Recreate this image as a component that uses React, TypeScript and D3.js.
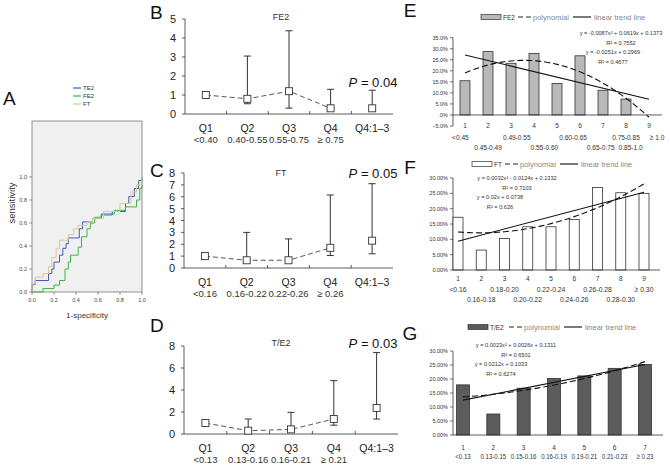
import React from 'react';
import * as d3 from 'd3';

const FONT = "'Liberation Sans', Arial, sans-serif";

// ---------- Panel A: ROC curves ----------
const rocTE2: [number, number][] = [[0,0],[0,0.065],[0.03,0.065],[0.03,0.1],[0.15,0.1],[0.15,0.16],[0.18,0.16],[0.18,0.2],[0.2,0.2],[0.2,0.26],[0.25,0.26],[0.25,0.32],[0.28,0.32],[0.28,0.38],[0.31,0.38],[0.31,0.42],[0.33,0.42],[0.33,0.47],[0.43,0.47],[0.43,0.55],[0.46,0.55],[0.46,0.61],[0.55,0.61],[0.55,0.64],[0.63,0.64],[0.63,0.67],[0.73,0.67],[0.73,0.7],[0.85,0.7],[0.85,0.77],[0.88,0.77],[0.88,0.83],[0.93,0.83],[0.93,0.9],[0.97,0.9],[0.97,0.97],[1,0.97],[1,1]];
const rocFE2: [number, number][] = [[0,0],[0.1,0],[0.1,0.03],[0.2,0.03],[0.2,0.06],[0.25,0.06],[0.25,0.1],[0.3,0.1],[0.3,0.2],[0.33,0.2],[0.33,0.26],[0.35,0.26],[0.35,0.32],[0.42,0.32],[0.42,0.39],[0.45,0.39],[0.45,0.48],[0.5,0.48],[0.5,0.55],[0.53,0.55],[0.53,0.6],[0.57,0.6],[0.57,0.65],[0.63,0.65],[0.63,0.68],[0.75,0.68],[0.75,0.71],[0.85,0.71],[0.85,0.74],[0.95,0.74],[0.95,0.8],[0.98,0.8],[0.98,0.9],[1,0.9],[1,1]];
const rocFT: [number, number][] = [[0,0],[0,0.07],[0.03,0.07],[0.03,0.13],[0.1,0.13],[0.1,0.16],[0.15,0.16],[0.15,0.22],[0.18,0.22],[0.18,0.3],[0.22,0.3],[0.22,0.38],[0.25,0.38],[0.25,0.45],[0.33,0.45],[0.33,0.5],[0.38,0.5],[0.38,0.55],[0.42,0.55],[0.42,0.58],[0.5,0.58],[0.5,0.61],[0.55,0.61],[0.55,0.64],[0.65,0.64],[0.65,0.7],[0.8,0.7],[0.8,0.77],[0.9,0.77],[0.9,0.87],[0.95,0.87],[0.95,0.93],[1,0.93],[1,1]];
const rocNames = ['TE2', 'FE2', 'FT'];
const rocColors = ['#3f5bb5', '#3fb34a', '#dcc898'];
const rocTicks = [0, 0.2, 0.4, 0.6, 0.8, 1.0];

// ---------- Panels B-D: odds ratios by quartile ----------
const quartiles = ['Q1', 'Q2', 'Q3', 'Q4', 'Q4:1–3'];

const fe2Ranges = ['<0.40', '0.40-0.55', '0.55-0.75', '≥ 0.75'];
const fe2Point = [1.0, 0.8, 1.2, 0.3, 0.3];
const fe2Low = [1.0, 0.54, 0.31, 0.22, 0.22];
const fe2High = [1.0, 3.05, 4.38, 1.3, 1.25];
const fe2Ticks = [0, 1, 2, 3, 4, 5];

const ftRanges = ['<0.16', '0.16-0.22', '0.22-0.26', '≥ 0.26'];
const ftPoint = [1.0, 0.65, 0.65, 1.7, 2.3];
const ftLow = [1.0, 0.6, 0.6, 1.05, 1.2];
const ftHigh = [1.0, 3.0, 2.45, 6.15, 7.1];
const ftTicks = [0, 1, 2, 3, 4, 5, 6, 7, 8];

const te2Ranges = ['<0.13', '0.13-0.16', '0.16-0.21', '≥ 0.21'];
const te2Point = [1.0, 0.3, 0.42, 1.36, 2.36];
const te2Low = [1.0, 0.2, 0.35, 0.8, 1.36];
const te2High = [1.0, 1.36, 1.97, 4.85, 7.4];
const te2Ticks = [0, 2, 4, 6, 8];

// ---------- Panels E-G: distribution bars with trend lines ----------
const eCats = [1, 2, 3, 4, 5, 6, 7, 8, 9];
const eValues = [0.155, 0.287, 0.234, 0.279, 0.143, 0.268, 0.112, 0.072, 0];
const eRanges = ['<0.45', '0.45-0.49', '0.49-0.55', '0.55-0.60', '0.60-0.65', '0.65-0.75', '0.75-0.85', '0.85-1.0', '≥ 1.0'];
const eRangePos = [0.8, 2.0, 3.25, 4.45, 5.7, 6.9, 8.0, 8.2, 9.35];
const ePoly = [-0.0087, 0.0619, 0.1373];
const eLin = [-0.0251, 0.2969];
const eTicks = [-0.05, 0, 0.05, 0.1, 0.15, 0.2, 0.25, 0.3, 0.35];
const eEq = ['y = -0.0087x² + 0.0619x + 0.1373', 'R² = 0.7552', 'y = -0.0251x + 0.2969', 'R² = 0.4677'];

const fCats = [1, 2, 3, 4, 5, 6, 7, 8, 9];
const fValues = [0.172, 0.065, 0.103, 0.141, 0.141, 0.165, 0.269, 0.252, 0.25];
const fRanges = ['<0.16', '0.16-0.18', '0.18-0.20', '0.20-0.22', '0.22-0.24', '0.24-0.26', '0.26-0.28', '0.28-0.30', '≥ 0.30'];
const fPoly = [0.0032, -0.0124, 0.1332];
const fLin = [0.02, 0.0738];
const fTicks = [0, 0.05, 0.1, 0.15, 0.2, 0.25, 0.3];
const fEq = ['y = 0.0032x² - 0.0124x + 0.1332', 'R² = 0.7103', 'y = 0.02x + 0.0738', 'R² = 0.626'];

const gCats = [1, 2, 3, 4, 5, 6, 7];
const gValues = [0.179, 0.075, 0.167, 0.202, 0.211, 0.238, 0.252];
const gRanges = ['<0.13', '0.13-0.15', '0.15-0.16', '0.16-0.19', '0.19-0.21', '0.21-0.23', '≥ 0.23'];
const gPoly = [0.0023, 0.0026, 0.1311];
const gLin = [0.0212, 0.1033];
const gTicks = [0, 0.05, 0.1, 0.15, 0.2, 0.25, 0.3];
const gEq = ['y = 0.0023x² + 0.0026x + 0.1311', 'R² = 0.6501', 'y = 0.0212x + 0.1033', 'R² = 0.6274'];

function PanelA() {
  const x = d3.scaleLinear().domain([0, 1]).range([32, 142]);
  const y = d3.scaleLinear().domain([0, 1]).range([292, 177]);
  const line = d3.line<[number, number]>().x(d => x(d[0])).y(d => y(d[1]));
  const curves = [rocTE2, rocFE2, rocFT];
  return (
    <g fontFamily={FONT}>
      <text x={3} y={98} fontSize={19} dominantBaseline="central" fill="#111">A</text>
      {rocNames.map((n, i) => (
        <g key={n}>
          <line x1={73} x2={81} y1={88 + i * 8} y2={88 + i * 8} stroke={rocColors[i]} strokeWidth={1.2} />
          <text x={83} y={88 + i * 8} fontSize={6} dominantBaseline="central" fill="#333">{n}</text>
        </g>
      ))}
      <rect x={32} y={121} width={110} height={171} fill="#f0f0f0" stroke="#777" strokeWidth={0.8} />
      {curves.map((c, i) => (
        <path key={i} d={line(c) || ''} fill="none" stroke={rocColors[i]} strokeWidth={1} />
      ))}
      {rocTicks.map(t => (
        <g key={'y' + t}>
          <line x1={29} x2={32} y1={y(t)} y2={y(t)} stroke="#555" strokeWidth={0.6} />
          <text x={27} y={y(t)} fontSize={5.5} textAnchor="end" dominantBaseline="central" fill="#444">{t.toFixed(1)}</text>
        </g>
      ))}
      {rocTicks.map(t => (
        <g key={'x' + t}>
          <line x1={x(t)} x2={x(t)} y1={292} y2={295} stroke="#555" strokeWidth={0.6} />
          <text x={x(t)} y={300} fontSize={5.5} textAnchor="middle" dominantBaseline="central" fill="#444">{t.toFixed(1)}</text>
        </g>
      ))}
      <text x={87} y={315} fontSize={8} textAnchor="middle" dominantBaseline="central" fill="#333">1-specificity</text>
      <text transform="translate(11,203) rotate(-90)" fontSize={9.5} textAnchor="middle" dominantBaseline="central" fill="#333">sensitivity</text>
    </g>
  );
}

type ORProps = {
  letter: string; letterY: number; title: string; titleY: number; pText: string; pY: number;
  x0: number; x1: number; yTop: number; yBottom: number; yMax: number;
  ticks: number[]; ranges: string[]; point: number[]; low: number[]; high: number[];
};

function ORPanel(p: ORProps) {
  const x = d3.scaleBand<string>().domain(quartiles).range([p.x0, p.x1]);
  const y = d3.scaleLinear().domain([0, p.yMax]).range([p.yBottom, p.yTop]);
  const cx = (q: string) => (x(q) || 0) + x.bandwidth() / 2;
  const pts: [number, number][] = quartiles.slice(0, 4).map((q, i) => [cx(q), y(p.point[i])]);
  const line = d3.line();
  return (
    <g fontFamily={FONT}>
      <text x={150} y={p.letterY} fontSize={19} dominantBaseline="central" fill="#111">{p.letter}</text>
      <text x={281} y={p.titleY} fontSize={9} textAnchor="middle" dominantBaseline="central" fill="#333">{p.title}</text>
      <text x={373} y={p.pY} fontSize={13} textAnchor="middle" dominantBaseline="central" fill="#111">
        <tspan fontStyle="italic">P</tspan> = {p.pText}
      </text>
      <line x1={p.x0} x2={p.x0} y1={y(0)} y2={y(p.yMax)} stroke="#333" strokeWidth={0.8} />
      <line x1={p.x0} x2={p.x1} y1={y(0)} y2={y(0)} stroke="#333" strokeWidth={0.8} />
      {p.ticks.map(t => (
        <g key={t}>
          <line x1={p.x0 - 3} x2={p.x0} y1={y(t)} y2={y(t)} stroke="#333" strokeWidth={0.8} />
          <text x={p.x0 - 9} y={y(t)} fontSize={11} textAnchor="end" dominantBaseline="central" fill="#222">{t}</text>
        </g>
      ))}
      {quartiles.slice(1).map(q => (
        <line key={q} x1={x(q)} x2={x(q)} y1={y(0)} y2={y(0) - 3} stroke="#333" strokeWidth={0.8} />
      ))}
      <path d={line(pts) || ''} fill="none" stroke="#444" strokeWidth={0.9} strokeDasharray="5,3" />
      {quartiles.map((q, i) => (
        p.high[i] > p.low[i] ? (
          <g key={'e' + q} stroke="#333" strokeWidth={1}>
            <line x1={cx(q)} x2={cx(q)} y1={y(p.low[i])} y2={y(p.high[i])} />
            <line x1={cx(q) - 3.5} x2={cx(q) + 3.5} y1={y(p.high[i])} y2={y(p.high[i])} />
            <line x1={cx(q) - 3.5} x2={cx(q) + 3.5} y1={y(p.low[i])} y2={y(p.low[i])} />
          </g>
        ) : null
      ))}
      {quartiles.map((q, i) => (
        <rect key={'s' + q} x={cx(q) - 3.5} y={y(p.point[i]) - 3.5} width={7} height={7} fill="#fff" stroke="#333" strokeWidth={0.9} />
      ))}
      {quartiles.map(q => (
        <text key={'l' + q} x={cx(q)} y={y(0) + 14} fontSize={10.5} textAnchor="middle" dominantBaseline="central" fill="#222">{q}</text>
      ))}
      {p.ranges.map((r, i) => (
        <text key={'r' + i} x={cx(quartiles[i])} y={y(0) + 25} fontSize={9.5} textAnchor="middle" dominantBaseline="central" fill="#333">{r}</text>
      ))}
    </g>
  );
}

type DistProps = {
  letter: string; letterY: number; legendY: number; legendName: string;
  barFill: string; cats: number[]; values: number[]; ranges: string[]; rangePos?: number[]; twoRows: boolean;
  poly: number[]; lin: number[]; ticks: number[]; tickFmt: string;
  xr: [number, number]; yDomain: [number, number]; yRange: [number, number];
  axisEnd: number; barW: number; eq: string[]; eqX: [number, number]; eqY: number;
  numY: number; rowY: [number, number]; swatchX: number; rangeSqueeze: number;
};

function DistPanel(p: DistProps) {
  const n = p.cats.length;
  const x = d3.scaleLinear().domain([1, n]).range(p.xr);
  const y = d3.scaleLinear().domain(p.yDomain).range(p.yRange);
  const fmt = d3.format(p.tickFmt);
  const xs = d3.range(1, n + 0.001, 0.1);
  const polyPts: [number, number][] = xs.map(v => [x(v), y(p.poly[0] * v * v + p.poly[1] * v + p.poly[2])]);
  const linPts: [number, number][] = [1, n].map(v => [x(v), y(p.lin[0] * v + p.lin[1])]);
  const line = d3.line();
  const axisX = 453;
  const sx = p.swatchX;
  const lx = sx + 22 + p.legendName.length * 4;
  return (
    <g fontFamily={FONT}>
      <text x={410} y={p.letterY} fontSize={19} textAnchor="middle" dominantBaseline="central" fill="#111">{p.letter}</text>
      {/* legend */}
      <rect x={sx} y={p.legendY - 2.5} width={20} height={5} fill={p.barFill} stroke="#333" strokeWidth={0.7} />
      <text x={sx + 22} y={p.legendY} fontSize={6.5} dominantBaseline="central" fill="#333">{p.legendName}</text>
      <line x1={lx + 3} x2={lx + 16} y1={p.legendY} y2={p.legendY} stroke="#222" strokeWidth={1.2} strokeDasharray="5,3" />
      <text x={lx + 18} y={p.legendY} fontSize={7.5} dominantBaseline="central" fill="#888">polynomial</text>
      <line x1={lx + 58} x2={lx + 76} y1={p.legendY} y2={p.legendY} stroke="#222" strokeWidth={1.2} />
      <text x={lx + 79} y={p.legendY} fontSize={7.5} dominantBaseline="central" fill="#888">linear trend line</text>
      {/* axes */}
      <line x1={axisX} x2={axisX} y1={y(p.yDomain[0])} y2={y(p.yDomain[1])} stroke="#333" strokeWidth={0.8} />
      {p.ticks.map(t => (
        <g key={t}>
          <line x1={axisX - 3} x2={axisX} y1={y(t)} y2={y(t)} stroke="#333" strokeWidth={0.7} />
          <text x={axisX - 5} y={y(t)} fontSize={5.5} textAnchor="end" dominantBaseline="central" fill="#333">{t === 0 && p.tickFmt === '.1%' ? '.0%' : fmt(t)}</text>
        </g>
      ))}
      {/* bars */}
      {p.cats.map((c, i) => (
        p.values[i] > 0 ? (
          <rect key={c} x={x(c) - p.barW / 2} y={y(p.values[i])} width={p.barW} height={y(0) - y(p.values[i])} fill={p.barFill} stroke="#333" strokeWidth={0.8} />
        ) : null
      ))}
      <line x1={axisX} x2={p.axisEnd} y1={y(0)} y2={y(0)} stroke="#333" strokeWidth={0.8} />
      {/* trend lines */}
      <path d={line(polyPts) || ''} fill="none" stroke="#111" strokeWidth={1.1} strokeDasharray="6,3" />
      <path d={line(linPts) || ''} fill="none" stroke="#111" strokeWidth={1.1} />
      {/* equations */}
      {p.eq.map((e, i) => (
        <text key={i} x={i < 2 ? p.eqX[0] : p.eqX[1]} y={p.eqY + i * 9.6} fontSize={5.6} textAnchor="middle" dominantBaseline="central" fill="#333">{e}</text>
      ))}
      {/* category labels */}
      {p.cats.map(c => (
        <text key={'n' + c} x={x(c)} y={p.numY} fontSize={6.5} textAnchor="middle" dominantBaseline="central" fill="#333">{c}</text>
      ))}
      {p.ranges.map((r, i) => {
        const pos = p.rangePos ? p.rangePos[i] : p.cats[i];
        const ry = p.twoRows ? p.rowY[i % 2] : p.rowY[0];
        return (
          <g key={'r' + i} transform={`translate(${x(pos)},${ry}) scale(${p.rangeSqueeze},1)`}>
            <text x={0} y={0} fontSize={8} textAnchor="middle" dominantBaseline="central" fill="#333">{r}</text>
          </g>
        );
      })}
    </g>
  );
}

export default function App() {
  return (
    <svg width={670} height={472} style={{ position: 'absolute', left: 0, top: 0, background: '#fff' }}>
      <rect width={670} height={472} fill="#fff" />
      <PanelA />
      <ORPanel letter="B" letterY={12} title="FE2" titleY={17} pText="0.04" pY={82} x0={185} x1={393} yTop={19} yBottom={114} yMax={5}
        ticks={fe2Ticks} ranges={fe2Ranges} point={fe2Point} low={fe2Low} high={fe2High} />
      <ORPanel letter="C" letterY={170} title="FT" titleY={173} pText="0.05" pY={173} x0={184} x1={393} yTop={173} yBottom={268} yMax={8}
        ticks={ftTicks} ranges={ftRanges} point={ftPoint} low={ftLow} high={ftHigh} />
      <ORPanel letter="D" letterY={325} title="T/E2" titleY={343} pText="0.03" pY={343} x0={184} x1={398} yTop={346} yBottom={434} yMax={8}
        ticks={te2Ticks} ranges={te2Ranges} point={te2Point} low={te2Low} high={te2High} />
      <DistPanel letter="E" letterY={10} legendY={17} legendName="FE2" barFill="#b9b9b9" cats={eCats} values={eValues}
        ranges={eRanges} rangePos={eRangePos} twoRows={true} poly={ePoly} lin={eLin} ticks={eTicks} tickFmt=".1%"
        xr={[465, 649]} yDomain={[-0.05, 0.35]} yRange={[126, 37.7]} axisEnd={662} barW={10}
        eq={eEq} eqX={[621, 613]} eqY={33} numY={125} rowY={[137, 147]} swatchX={481} rangeSqueeze={0.82} />
      <DistPanel letter="F" letterY={167} legendY={164} legendName="FT" barFill="#ffffff" cats={fCats} values={fValues}
        ranges={fRanges} twoRows={true} poly={fPoly} lin={fLin} ticks={fTicks} tickFmt=".2%"
        xr={[458, 644]} yDomain={[0, 0.3]} yRange={[270, 178]} axisEnd={660} barW={10}
        eq={fEq} eqX={[517, 500]} eqY={178} numY={278} rowY={[289, 299]} swatchX={472} rangeSqueeze={0.85} />
      <DistPanel letter="G" letterY={333} legendY={327} legendName="T/E2" barFill="#5c5c5c" cats={gCats} values={gValues}
        ranges={gRanges} twoRows={false} poly={gPoly} lin={gLin} ticks={gTicks} tickFmt=".2%"
        xr={[463, 645]} yDomain={[0, 0.3]} yRange={[435, 351]} axisEnd={663} barW={13}
        eq={gEq} eqX={[516, 501]} eqY={345} numY={447} rowY={[457, 457]} swatchX={468} rangeSqueeze={0.76} />
    </svg>
  );
}
